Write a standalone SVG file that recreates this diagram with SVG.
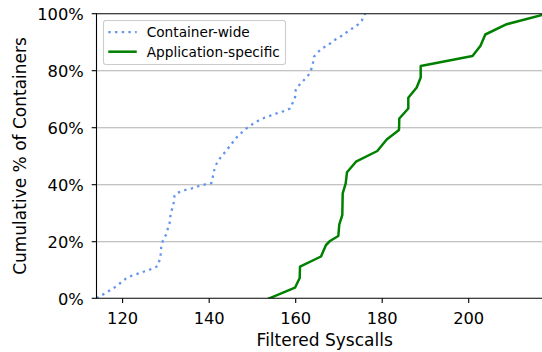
<svg xmlns="http://www.w3.org/2000/svg" width="542" height="352" viewBox="0 0 542 352">
  <style>
    text { font-family: "DejaVu Sans", "Liberation Sans", sans-serif; fill: #000; }
    .tick { font-size: 16.3px; }
    .label { font-size: 17px; }
    .legend-text { font-size: 13.7px; }
    .grid { stroke: #b0b0b0; stroke-width: 1.1; fill: none; }
    .spine { stroke: #000; stroke-width: 1.1; fill: none; }
    .tickmark { stroke: #000; stroke-width: 1.1; }
    .wide { stroke: #6495ED; stroke-width: 2.3; fill: none; stroke-dasharray: 2.4 4.3; stroke-linejoin: round; }
    .app { stroke: #008000; stroke-width: 2.5; fill: none; stroke-linejoin: round; stroke-linecap: square; }
  </style>
  <defs>
    <clipPath id="plot-area">
      <rect x="96.5" y="13.7" width="460" height="284.6"/>
    </clipPath>
  </defs>
  <rect x="0" y="0" width="542" height="352" fill="#fff"/>

  <!-- horizontal grid -->
  <g id="grid">
    <line class="grid" x1="96.5" y1="241.7" x2="542" y2="241.7"/>
    <line class="grid" x1="96.5" y1="184.7" x2="542" y2="184.7"/>
    <line class="grid" x1="96.5" y1="127.7" x2="542" y2="127.7"/>
    <line class="grid" x1="96.5" y1="70.7" x2="542" y2="70.7"/>
  </g>

  <!-- CDF curves -->
  <g id="connectors" clip-path="url(#plot-area)">
    <polyline id="container-wide" class="wide" points="96.5,298.3 103,294.5 110,290.3 116,286.5 121,282.5 125.5,278.8 131.5,275.8 140,273 150.5,269.3 157.5,266.3 159.8,259.5 161,252.5 161.2,246 163,240.5 166.3,234.3 168,228 170,221.5 170.5,214.5 172.3,208.3 174,201.7 174.5,195.5 177,193 185.3,190 192,188.3 199,186 205.3,184.3 211.5,183 212.8,177 214,171 216.2,164.5 220,158.3 224.3,153 228.7,147.5 233,142 237,137 242,132.3 247,128 252.3,124.3 258.3,120.7 264.5,117.7 270.3,115.7 276.7,113.3 283.3,111.3 290,108.5 292.7,102.7 295.2,96.7 295.7,90 299.3,85 304,80 308.3,75.3 311.3,69.3 313,62.7 314,56.7 317.7,52.3 323.3,47.7 329,44.3 334,40.3 340,37 346,32.7 351.3,29 356.7,25.7 361.7,20.7 364,15.5 365,13.7"/>
    <polyline id="application-specific" class="app" points="269.3,298.3 295,287.7 299.7,278 300,266.7 321,256.5 326,245 330,241 338.3,236 339.3,224.3 342.3,215 342.7,193.3 345.7,183.3 347,172.3 356,161.7 377.3,151 386.7,139.5 399,130 399.3,118.5 408.3,108.5 408.3,97.7 416.7,87.5 420.7,77.5 420.7,66 472.5,56 480.5,45.7 485.3,34.5 506.7,24.2 547,13.7"/>
  </g>

  <!-- axes frame -->
  <g id="axes">
    <line class="spine" x1="96.5" y1="13.7" x2="96.5" y2="298.3"/>
    <line class="spine" x1="96" y1="298.3" x2="542" y2="298.3"/>
    <line class="spine" x1="96" y1="13.7" x2="542" y2="13.7"/>
    <!-- y ticks -->
    <line class="tickmark" x1="91.7" y1="298.3" x2="96.5" y2="298.3"/>
    <line class="tickmark" x1="91.7" y1="241.7" x2="96.5" y2="241.7"/>
    <line class="tickmark" x1="91.7" y1="184.7" x2="96.5" y2="184.7"/>
    <line class="tickmark" x1="91.7" y1="127.7" x2="96.5" y2="127.7"/>
    <line class="tickmark" x1="91.7" y1="70.7" x2="96.5" y2="70.7"/>
    <line class="tickmark" x1="91.7" y1="13.7" x2="96.5" y2="13.7"/>
    <!-- x ticks -->
    <line class="tickmark" x1="122.6" y1="298.3" x2="122.6" y2="303.1"/>
    <line class="tickmark" x1="209.2" y1="298.3" x2="209.2" y2="303.1"/>
    <line class="tickmark" x1="295.7" y1="298.3" x2="295.7" y2="303.1"/>
    <line class="tickmark" x1="382.2" y1="298.3" x2="382.2" y2="303.1"/>
    <line class="tickmark" x1="468.7" y1="298.3" x2="468.7" y2="303.1"/>
  </g>

  <g id="y-tick-labels" class="tick" text-anchor="end">
    <text class="tick" x="83.8" y="304.8">0%</text>
    <text class="tick" x="83.8" y="248.2">20%</text>
    <text class="tick" x="83.8" y="191.2">40%</text>
    <text class="tick" x="83.8" y="134.2">60%</text>
    <text class="tick" x="83.8" y="77.2">80%</text>
    <text class="tick" x="83.8" y="20.2">100%</text>
  </g>
  <g id="x-tick-labels" text-anchor="middle">
    <text class="tick" x="122.6" y="324">120</text>
    <text class="tick" x="209.2" y="324">140</text>
    <text class="tick" x="295.7" y="324">160</text>
    <text class="tick" x="382.2" y="324">180</text>
    <text class="tick" x="468.7" y="324">200</text>
  </g>

  <text id="x-label" class="label" x="324.7" y="345.5" text-anchor="middle">Filtered Syscalls</text>
  <text id="y-label" class="label" text-anchor="middle" transform="translate(26,156) rotate(-90)">Cumulative % of Containers</text>

  <!-- legend -->
  <g id="legend">
    <rect x="103.5" y="20.5" width="182" height="44" rx="2.5" ry="2.5" fill="#fff" fill-opacity="0.8" stroke="#cccccc" stroke-width="1.1"/>
    <line class="wide" x1="108.3" y1="32.2" x2="136.7" y2="32.2"/>
    <text class="legend-text" x="146.7" y="37.3">Container-wide</text>
    <line class="app" x1="109.5" y1="51.7" x2="135.5" y2="51.7"/>
    <text class="legend-text" x="146.7" y="56.8">Application-specific</text>
  </g>
</svg>
